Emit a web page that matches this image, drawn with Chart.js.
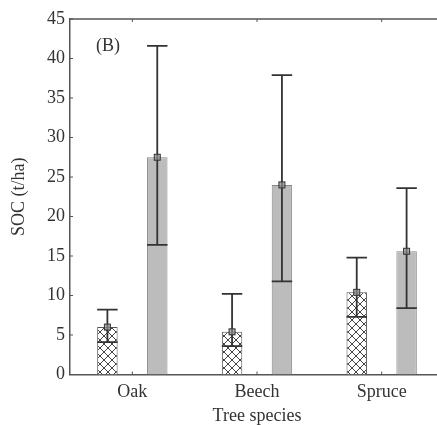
<!DOCTYPE html>
<html>
<head>
<meta charset="utf-8">
<script src="https://cdn.jsdelivr.net/npm/chart.js@4"></script>
<style>
  html, body { margin: 0; padding: 0; background: #fff; overflow: hidden; }
  #wrap { width: 450px; height: 425px; }
</style>
</head>
<body>
<div id="wrap"><canvas id="soc-chart"></canvas></div>
<script>
// values (t/ha)
const species = ['Oak', 'Beech', 'Spruce'];
const hatchedMeans = [6.0, 5.4, 10.4];
const hatchedLow = [4.1, 3.6, 7.3];
const hatchedHigh = [8.2, 10.2, 14.8];
const grayMeans = [27.5, 24.0, 15.6];
const grayLow = [16.4, 11.8, 8.4];
const grayHigh = [41.6, 37.9, 23.6];
const yTickValues = [0, 5, 10, 15, 20, 25, 30, 35, 40, 45];

const INK = '#333';
const AXIS = '#555';
const SERIF = '"Liberation Serif", "DejaVu Serif", serif';

// cross hatch fill for the first series
const makeHatch = () => {
  const tile = document.createElement('canvas');
  tile.width = 8;
  tile.height = 8;
  const c = tile.getContext('2d');
  c.fillStyle = '#fff';
  c.fillRect(0, 0, 8, 8);
  c.strokeStyle = '#444';
  c.lineWidth = 1;
  c.beginPath();
  c.moveTo(0, 0); c.lineTo(8, 8);
  c.moveTo(8, 0); c.lineTo(0, 8);
  c.stroke();
  return c.createPattern(tile, 'repeat');
};

const errorBars = {
  id: 'errorBars',
  afterDatasetsDraw(chart) {
    const { ctx } = chart;
    const yScale = chart.scales.y;
    const ranges = [[hatchedLow, hatchedHigh], [grayLow, grayHigh]];
    ctx.save();
    ctx.strokeStyle = INK;
    chart.data.datasets.forEach((ds, di) => {
      const meta = chart.getDatasetMeta(di);
      meta.data.forEach((bar, i) => {
        const half = bar.width / 2;
        const lo = yScale.getPixelForValue(ranges[di][0][i]);
        const hi = yScale.getPixelForValue(ranges[di][1][i]);
        const mid = yScale.getPixelForValue(ds.data[i]);
        ctx.lineWidth = 1.8;
        ctx.beginPath();
        ctx.moveTo(bar.x, lo); ctx.lineTo(bar.x, hi);
        ctx.moveTo(bar.x - half, hi); ctx.lineTo(bar.x + half, hi);
        ctx.moveTo(bar.x - half, lo); ctx.lineTo(bar.x + half, lo);
        ctx.stroke();
        ctx.lineWidth = 1;
        ctx.fillStyle = 'rgba(140,140,140,0.7)';
        ctx.fillRect(bar.x - 3, mid - 3, 6, 6);
        ctx.strokeRect(bar.x - 3, mid - 3, 6, 6);
      });
    });
    ctx.restore();
  },
};

const frame = {
  id: 'frame',
  afterDraw(chart) {
    const { ctx, chartArea } = chart;
    const xScale = chart.scales.x;
    const yScale = chart.scales.y;
    ctx.save();
    ctx.strokeStyle = AXIS;
    ctx.lineWidth = 1.5;
    ctx.beginPath();
    ctx.moveTo(chartArea.left, chartArea.top);
    ctx.lineTo(chartArea.right, chartArea.top);
    ctx.stroke();
    ctx.lineWidth = 1;
    ctx.beginPath();
    yScale.ticks.forEach((t) => {
      const py = yScale.getPixelForValue(t.value);
      ctx.moveTo(chartArea.left, py);
      ctx.lineTo(chartArea.left + 3, py);
    });
    species.forEach((s, i) => {
      const px = xScale.getPixelForValue(i);
      ctx.moveTo(px, chartArea.top);
      ctx.lineTo(px, chartArea.top + 3);
      ctx.moveTo(px, chartArea.bottom);
      ctx.lineTo(px, chartArea.bottom - 3);
    });
    ctx.stroke();
    ctx.fillStyle = INK;
    ctx.font = '18px ' + SERIF;
    ctx.textBaseline = 'middle';
    ctx.fillText('(B)', chartArea.left + 26, 46);
    ctx.restore();
  },
};

new Chart(document.getElementById('soc-chart'), {
  type: 'bar',
  data: {
    labels: species,
    datasets: [
      {
        label: 'hatched',
        data: hatchedMeans,
        backgroundColor: makeHatch(),
        borderColor: '#555',
        borderWidth: 1,
        categoryPercentage: 0.8,
        barPercentage: 0.41,
      },
      {
        label: 'gray',
        data: grayMeans,
        backgroundColor: '#bcbcbc',
        borderColor: '#888',
        borderWidth: 1,
        categoryPercentage: 0.8,
        barPercentage: 0.41,
      },
    ],
  },
  options: {
    responsive: true,
    maintainAspectRatio: false,
    animation: false,
    layout: { padding: { top: 19, right: 6, left: 0, bottom: 0 } },
    plugins: { legend: { display: false }, tooltip: { enabled: false } },
    scales: {
      x: {
        grid: { display: false, drawTicks: false },
        border: { display: true, color: AXIS, width: 1.5 },
        ticks: { color: INK, font: { family: SERIF, size: 18 }, padding: 7 },
        title: {
          display: true,
          text: 'Tree species',
          color: INK,
          font: { family: SERIF, size: 18, lineHeight: 1 },
          padding: { top: 0, bottom: 0 },
        },
        afterFit(scale) { scale.height = 50.5; },
      },
      y: {
        min: 0,
        max: 45,
        afterBuildTicks(scale) { scale.ticks = yTickValues.map((v) => ({ value: v })); },
        grid: { display: false, drawTicks: false },
        border: { display: true, color: AXIS, width: 1.5 },
        ticks: { color: INK, font: { family: SERIF, size: 18 }, padding: 5 },
        title: {
          display: true,
          text: 'SOC (t/ha)',
          color: INK,
          font: { family: SERIF, size: 18 },
          padding: { top: 8, bottom: 0 },
        },
        afterFit(scale) { scale.width = 70; },
      },
    },
  },
  plugins: [errorBars, frame],
});
</script>
</body>
</html>
